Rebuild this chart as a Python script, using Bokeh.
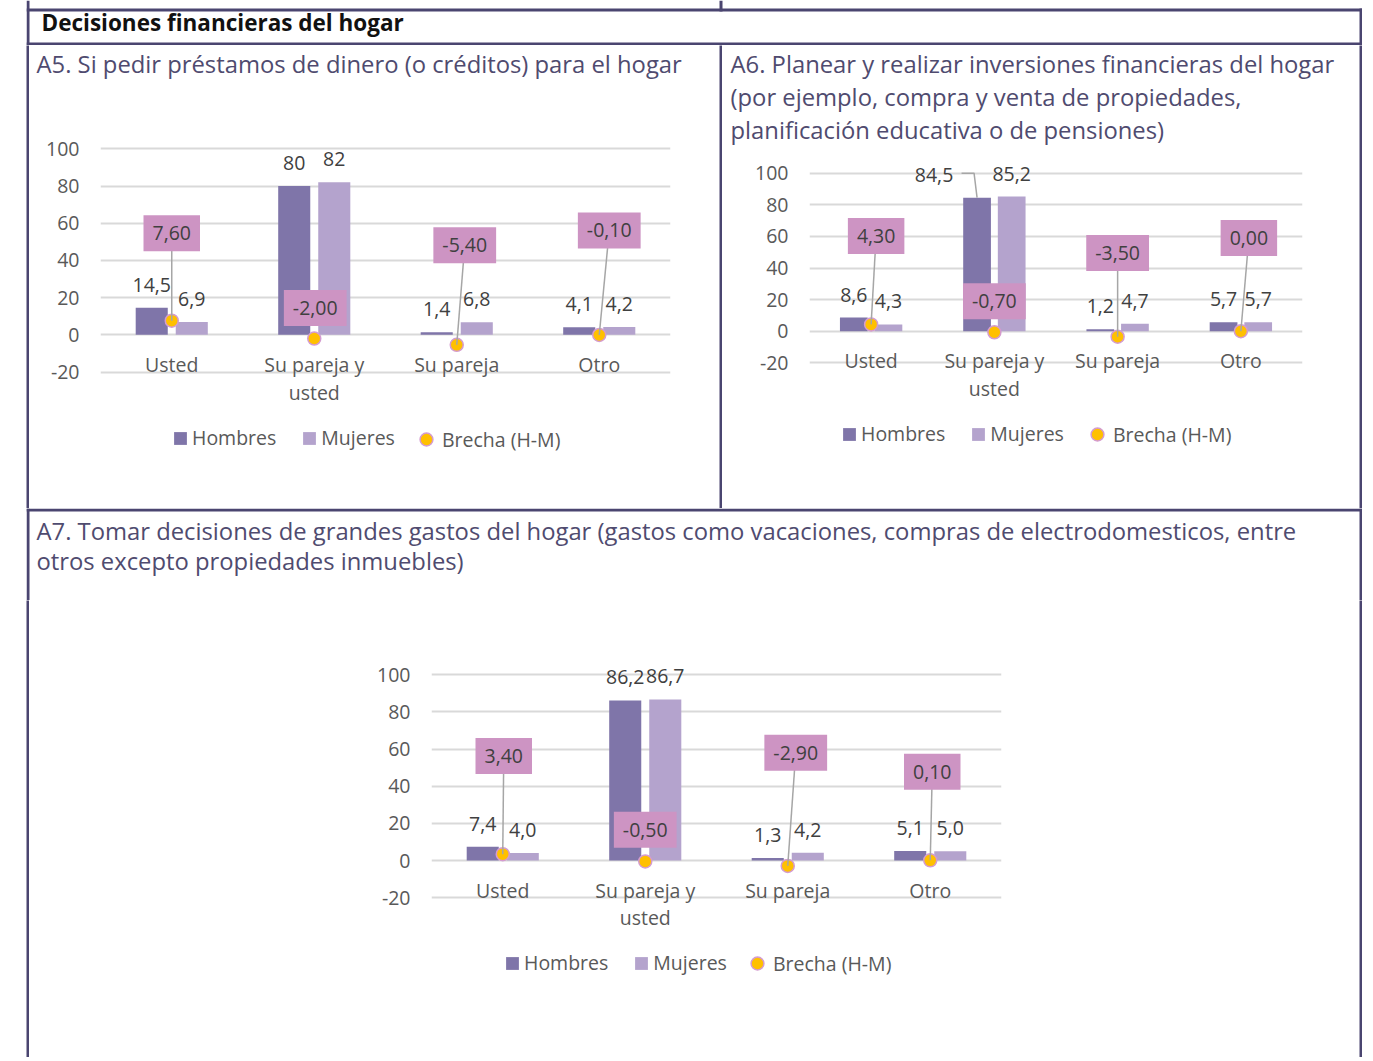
from bokeh.plotting import figure
from bokeh.layouts import row, column
from bokeh.models import Range1d, FixedTicker, Legend, LegendItem, ColumnDataSource, Spacer
from bokeh.transform import dodge
from bokeh.core.properties import value
from bokeh.embed import file_html
from bokeh.resources import INLINE

# ---------------- data ----------------
header_text = "Decisiones financieras del hogar"
categories = ["Usted", "Su pareja y usted", "Su pareja", "Otro"]
category_labels = ["Usted", "Su pareja y\nusted", "Su pareja", "Otro"]
y_ticks = [-20, 0, 20, 40, 60, 80, 100]
y_tick_labels = ["-20", "0", "20", "40", "60", "80", "100"]
series_names = ["Hombres", "Mujeres", "Brecha (H-M)"]

a5_title = ["A5. Si pedir préstamos de dinero (o créditos) para el hogar"]
a5_hombres = [14.5, 80.0, 1.4, 4.1]
a5_mujeres = [6.9, 82.0, 6.8, 4.2]
a5_brecha = [7.6, -2.0, -5.4, -0.1]
a5_hombres_txt = ["14,5", "80", "1,4", "4,1"]
a5_mujeres_txt = ["6,9", "82", "6,8", "4,2"]

a6_title = ["A6. Planear y realizar inversiones financieras del hogar",
            "(por ejemplo, compra y venta de propiedades,",
            "planificación educativa o de pensiones)"]
a6_hombres = [8.6, 84.5, 1.2, 5.7]
a6_mujeres = [4.3, 85.2, 4.7, 5.7]
a6_brecha = [4.3, -0.7, -3.5, 0.0]
a6_hombres_txt = ["8,6", "84,5", "1,2", "5,7"]
a6_mujeres_txt = ["4,3", "85,2", "4,7", "5,7"]

a7_title = ["A7. Tomar decisiones de grandes gastos del hogar (gastos como vacaciones, compras de electrodomesticos, entre",
            "otros excepto propiedades inmuebles)"]
a7_hombres = [7.4, 86.2, 1.3, 5.1]
a7_mujeres = [4.0, 86.7, 4.2, 5.0]
a7_brecha = [3.4, -0.5, -2.9, 0.1]
a7_hombres_txt = ["7,4", "86,2", "1,3", "5,1"]
a7_mujeres_txt = ["4,0", "86,7", "4,2", "5,0"]

# ---------------- layout of data labels (placement only) ----------------
a5_gap_label_y = [54.6, 14.4, 48.1, 56.1]
a5_gap_label_dx = [0, 1, 8, 10]
a5_gap_leader = [True, False, True, True]
a6_gap_label_y = [60.3, 19.0, 49.5, 59.0]
a6_gap_label_dx = [5, 0, 0, 8]
a6_gap_leader = [True, False, True, True]
a7_gap_label_y = [56.3, 16.5, 58.0, 47.8]
a7_gap_label_dx = [1, 0, 8, 2]
a7_gap_leader = [True, False, True, True]
a6_h_label_dx = [0, -43, 0, 0]

# ---------------- styles ----------------
FONT = "Open Sans"
C_BORDER = "#4a4570"
C_H = "#7f75a9"
C_M = "#b4a3cd"
C_GAP = "#ffc000"
C_GAP_LINE = "#d49bd0"
C_BOX = "#cd94c3"
C_GRID = "#d9d9d9"
C_TICK = "#595959"
C_VAL = "#404040"
C_TITLE = "#4f4b6f"
C_LEADER = "#a6a6a6"
FS = "19.5px"
TS = "23.8px"
BW = 0.225
OFF = 0.1405


def fmt2(v):
    s = "%.2f" % v
    if s == "-0.00":
        s = "0.00"
    return s.replace(".", ",")


def line_fig(w, h):
    p = figure(width=w, height=h, x_axis_type=None, y_axis_type=None, toolbar_location=None,
               min_border=0, outline_line_color=None, background_fill_color=C_BORDER,
               border_fill_color=C_BORDER, output_backend="svg", frame_align=False)
    return p


def text_fig(width, height, lines, x, ys, size=TS, color=C_TITLE, style="normal", rules=()):
    p = figure(width=width, height=height, x_range=Range1d(0, width), y_range=Range1d(0, height),
               x_axis_type=None, y_axis_type=None, toolbar_location=None, min_border=0,
               outline_line_color=None, output_backend="svg", frame_align=False)
    if rules:
        p.quad(left=[r[0] for r in rules], right=[r[1] for r in rules],
               bottom=[r[2] for r in rules], top=[r[3] for r in rules],
               fill_color=C_BORDER, line_color=None)
    p.text(x=[x] * len(lines), y=ys, text=lines, text_font=value(FONT), text_font_size=size,
           text_color=color, text_font_style=style, text_baseline="alphabetic", text_align="left")
    return p


def chart_fig(width, height, fig_top, fl, fw, ft, fb, y0_px, y100_px,
              hombres, mujeres, brecha, h_txt, m_txt, lbl_y, lbl_dx, leader,
              leg1_pos, leg2_pos, h_dx=None, h_leaders=None):
    ft_r = ft - fig_top
    fb_r = fb - fig_top
    ppu = (y0_px - y100_px) / 100.0
    y_end = 100 + (y100_px - ft) / ppu
    y_start = -(fb - y0_px) / ppu
    ppx = fw / float(len(categories))
    p = figure(width=width, height=height, x_range=Range1d(0.5, len(categories) + 0.5),
               y_range=Range1d(y_start, y_end), toolbar_location=None, output_backend="svg",
               outline_line_color=None, min_border_left=fl, min_border_right=width - fl - fw,
               min_border_top=ft_r, min_border_bottom=height - fb_r, frame_align=False)
    xpos = list(range(1, len(categories) + 1))
    if h_dx is None:
        h_dx = [0] * len(categories)
    src = ColumnDataSource(dict(x=xpos, h=hombres, m=mujeres, b=brecha, h_txt=h_txt, m_txt=m_txt,
                                b_txt=[fmt2(v) for v in brecha], lbl_y=lbl_y, lbl_dx=lbl_dx, h_dx=h_dx))
    rh = p.vbar(x=dodge("x", -OFF, range=p.x_range), top="h", width=BW, fill_color=C_H,
                line_color=None, source=src)
    rm = p.vbar(x=dodge("x", OFF, range=p.x_range), top="m", width=BW, fill_color=C_M,
                line_color=None, source=src)
    rb = p.scatter(x="x", y="b", size=13, fill_color=C_GAP, line_color=C_GAP_LINE, line_width=1.5,
                   source=src)
    idx = [i for i in range(len(categories)) if leader[i]]
    p.segment(x0=[xpos[i] for i in idx], y0=[brecha[i] for i in idx],
              x1=[xpos[i] + lbl_dx[i] / ppx for i in idx], y1=[lbl_y[i] for i in idx],
              line_color=C_LEADER, line_width=1.5)
    if h_leaders:
        xs, ys = [], []
        for i, pts in h_leaders.items():
            xs.append([xpos[i] - OFF + dx / ppx for dx, dy in pts])
            ys.append([hombres[i] + dy / ppu for dx, dy in pts])
        p.multi_line(xs=xs, ys=ys, line_color=C_LEADER, line_width=1.5)
    p.text(x=dodge("x", -OFF, range=p.x_range), y="h", text="h_txt", x_offset="h_dx", y_offset=-23,
           text_align="center", text_baseline="middle", text_font=value(FONT), text_font_size=FS,
           text_color=C_VAL, source=src)
    p.text(x=dodge("x", OFF, range=p.x_range), y="m", text="m_txt", y_offset=-23,
           text_align="center", text_baseline="middle", text_font=value(FONT), text_font_size=FS,
           text_color=C_VAL, source=src)
    p.text(x="x", y="lbl_y", text="b_txt", x_offset="lbl_dx", text_align="center",
           text_baseline="middle", text_font=value(FONT), text_font_size=FS, text_color=C_VAL,
           background_fill_color=C_BOX, padding=dict(left=9, right=9, top=11, bottom=11), source=src)

    # axes
    p.xgrid.visible = False
    p.ygrid.grid_line_color = C_GRID
    p.ygrid.grid_line_width = 2
    p.xaxis.ticker = FixedTicker(ticks=xpos)
    p.xaxis.major_label_overrides = {x: lab for x, lab in zip(xpos, category_labels)}
    p.xaxis.fixed_location = 0
    p.xaxis.major_label_text_line_height = 1.03
    p.yaxis.ticker = FixedTicker(ticks=y_ticks)
    p.yaxis.major_label_overrides = {t: lab for t, lab in zip(y_ticks, y_tick_labels)}
    for ax in (p.xaxis[0], p.yaxis[0]):
        ax.axis_line_color = None
        ax.major_tick_line_color = None
        ax.minor_tick_line_color = None
        ax.major_tick_out = 0
        ax.major_tick_in = 0
        ax.minor_tick_out = 0
        ax.major_label_text_font = FONT
        ax.major_label_text_font_size = FS
        ax.major_label_text_color = C_TICK
    p.xaxis.major_label_standoff = 16
    p.yaxis.major_label_standoff = 21

    common = dict(orientation="horizontal", padding=0, margin=0, border_line_color=None,
                  background_fill_alpha=0, label_text_font=FONT, label_text_font_size=FS,
                  label_text_color=C_TICK)
    leg1 = Legend(items=[LegendItem(label=series_names[0], renderers=[rh]),
                         LegendItem(label=series_names[1], renderers=[rm])],
                  location=leg1_pos, glyph_width=16, glyph_height=16, label_standoff=4,
                  spacing=25, **common)
    leg2 = Legend(items=[LegendItem(label=series_names[2], renderers=[rb])],
                  location=leg2_pos, glyph_width=32, glyph_height=32, label_standoff=-3, **common)
    p.add_layout(leg1)
    p.add_layout(leg2)
    return p


# ---------------- build ----------------
# header cell with the table's top rules (page y 0..45, x 26..1362)
header = text_fig(1336, 45, [header_text], 15, [23.5], size="22.5px", color="#111111", style="bold",
                  rules=[(0, 1336, 34, 37), (0, 1336, 0, 3), (0, 3, 0, 45),
                         (693, 696, 34, 45), (1333, 1336, 0, 37)])

a5t = text_fig(690, 50, a5_title, 7, [31.5])
a5c = chart_fig(690, 413, 95, 71, 570, 130, 470, 334.3, 148.3,
                a5_hombres, a5_mujeres, a5_brecha, a5_hombres_txt, a5_mujeres_txt,
                a5_gap_label_y, a5_gap_label_dx, a5_gap_leader, (72, 19), (310, 15))

a6t = text_fig(637, 105, a6_title, 8, [86.5, 53.5, 20.5])
a6c = chart_fig(637, 358, 150, 87, 493, 155, 465, 330.7, 172.7,
                a6_hombres, a6_mujeres, a6_brecha, a6_hombres_txt, a6_mujeres_txt,
                a6_gap_label_y, a6_gap_label_dx, a6_gap_leader, (32, 18), (272, 15),
                h_dx=a6_h_label_dx, h_leaders={1: [(-15.5, 24.5), (-3, 24.5), (0, 0)]})

# A7 title cell including the row rule (page y 508..600)
a7t = text_fig(1336, 92, a7_title, 10, [70, 40],
               rules=[(0, 1336, 89, 92), (0, 3, 0, 92), (1333, 1336, 0, 92)])
a7c = chart_fig(1330, 457, 600, 402, 570, 650, 990, 860.0, 674.3,
                a7_hombres, a7_mujeres, a7_brecha, a7_hombres_txt, a7_mujeres_txt,
                a7_gap_label_y, a7_gap_label_dx, a7_gap_leader, (73, 14), (310, 11))

table = column(
    header,
    row(line_fig(3, 463), column(a5t, a5c), line_fig(3, 463), column(a6t, a6c), line_fig(3, 463)),
    a7t,
    row(line_fig(3, 457), a7c, line_fig(3, 457)),
)
layout = row(Spacer(width=26, height=10), table)

open("out.html", "w").write(file_html(layout, INLINE))
